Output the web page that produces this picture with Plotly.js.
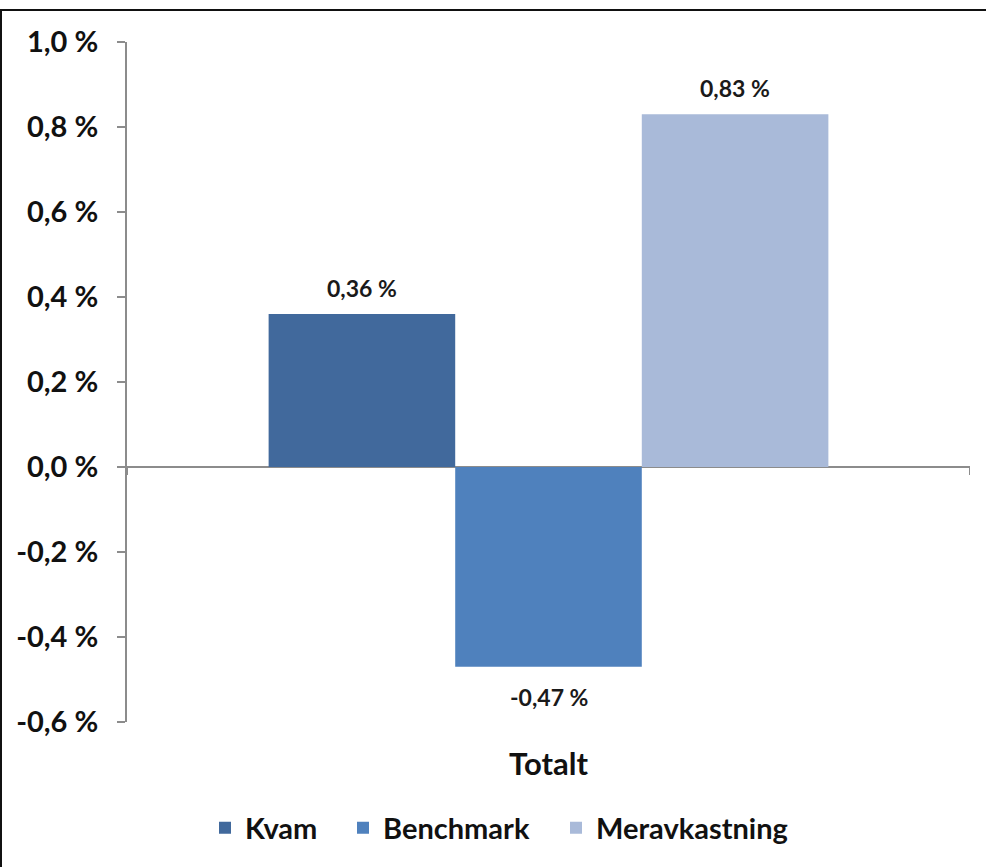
<!DOCTYPE html>
<html><head><meta charset="utf-8">
<script src="https://cdn.plot.ly/plotly-3.0.1.min.js"></script>
<style>
html,body{margin:0;padding:0;background:#fff;}
#chart{position:absolute;left:0;top:0;width:986px;height:867px;}
#frame{position:absolute;left:0;top:9px;width:990px;height:870px;border-top:2px solid #111;border-left:2px solid #111;pointer-events:none;}
</style></head>
<body>
<div id="chart"></div>
<div id="frame"></div>
<script>
const categories = ['Totalt'];
const seriesNames = ['Kvam', 'Benchmark', 'Meravkastning'];
const seriesValues = [[0.36], [-0.47], [0.83]];
const seriesColors = ['#41699C', '#4F81BD', '#A9BAD9'];
const yTicks = [-0.6, -0.4, -0.2, 0.0, 0.2, 0.4, 0.6, 0.8, 1.0];

const FONT = 'Lato, "Open Sans", sans-serif';
const fmt = (v, d) => v.toFixed(d).replace('.', ',') + ' %';

const legendIds = ['legend', 'legend2', 'legend3'];
const legendX = [205, 343, 556];

const traces = seriesNames.map((n, i) => ({
  type: 'bar', name: n, x: categories, y: seriesValues[i],
  marker: {color: seriesColors[i]},
  legend: legendIds[i],
  hoverinfo: 'skip'
}));

const bargap = 0.336;
const barW = (1 - bargap) / seriesNames.length;
const annotations = [];
seriesNames.forEach((n, i) => {
  seriesValues[i].forEach((v, j) => {
    annotations.push({
      xref: 'x', yref: 'y', x: j - (1 - bargap) / 2 + barW * (i + 0.5), y: v,
      text: '<b>' + fmt(v, 2) + '</b>', showarrow: false,
      yshift: v >= 0 ? 26 : -30,
      font: {family: FONT, size: 23, color: '#1a1a1a'}
    });
  });
});

const shapes = [-0.5, 0.5].map(xv => ({
  type: 'line', xref: 'x', yref: 'y', ysizemode: 'pixel', yanchor: 0,
  x0: xv, x1: xv, y0: 0, y1: -8, line: {color: '#8c8c8c', width: 2}
}));

const legendFont = {family: FONT, size: 29, color: '#111', weight: 'bold'};

const layout = {
  width: 986, height: 867,
  margin: {l: 127, r: 16, t: 42, b: 145},
  paper_bgcolor: '#fff', plot_bgcolor: '#fff',
  barmode: 'group', bargap: bargap, bargroupgap: 0,
  showlegend: true,
  xaxis: {
    type: 'category', showgrid: false, zeroline: false, showline: false, ticks: '',
    range: [-0.5, 0.5], ticklabelstandoff: 21,
    tickfont: {family: FONT, size: 31, color: '#111', weight: 'bold'}
  },
  yaxis: {
    range: [-0.6, 1.0], tickvals: yTicks, ticktext: yTicks.map(v => fmt(v, 1)),
    showgrid: false, zeroline: true, zerolinecolor: '#8c8c8c', zerolinewidth: 2,
    showline: true, linecolor: '#8c8c8c', linewidth: 2,
    ticks: 'outside', ticklen: 8, tickwidth: 2, tickcolor: '#8c8c8c', ticklabelstandoff: 13,
    tickfont: {family: FONT, size: 29, color: '#111', weight: 'bold'}
  },
  annotations: annotations,
  shapes: shapes
};
legendIds.forEach((id, i) => {
  layout[id] = {orientation: 'h', xref: 'container', x: legendX[i] / 986, xanchor: 'left',
    yref: 'container', y: 0.045, yanchor: 'middle', font: legendFont, bgcolor: 'rgba(0,0,0,0)', itemwidth: 30};
});

Plotly.newPlot('chart', traces, layout, {displayModeBar: false, staticPlot: true});
</script>
</body></html>
